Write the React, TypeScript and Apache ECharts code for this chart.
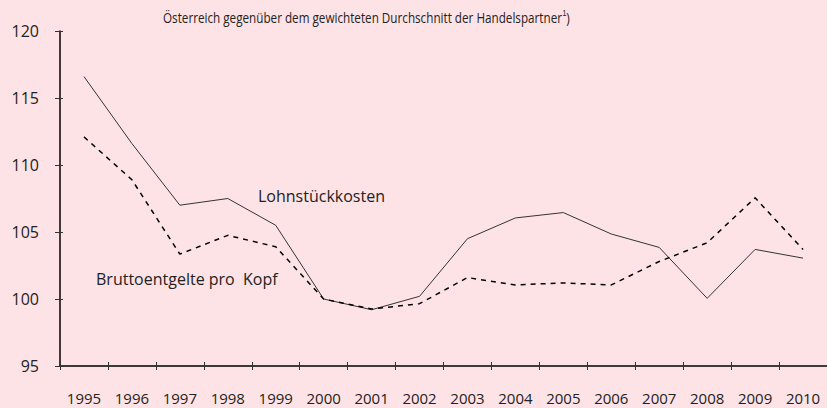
import React, { useEffect, useRef } from "react";
import * as echarts from "echarts";

const years = ["1995","1996","1997","1998","1999","2000","2001","2002","2003","2004","2005","2006","2007","2008","2009","2010"];
const lohnstueckkosten = [116.6, 111.6, 107.0, 107.5, 105.5, 100.0, 99.2, 100.2, 104.5, 106.05, 106.45, 104.85, 103.85, 100.05, 103.7, 103.05];
const bruttoentgelte = [112.1, 108.9, 103.35, 104.75, 103.9, 100.0, 99.25, 99.65, 101.6, 101.05, 101.2, 101.05, 102.8, 104.2, 107.55, 103.7];
const yTicks = { min: 95, max: 120, interval: 5 };
const titleText = "Österreich gegenüber dem gewichteten Durchschnitt der Handelspartner";
const labelLohn = "Lohnstückkosten";
const labelBrutto = "Bruttoentgelte pro  Kopf";

const FONT = "'Open Sans', 'DejaVu Sans', sans-serif";
const BG = "#fee3e6";

export default function App() {
  const ref = useRef<HTMLDivElement>(null);
  useEffect(() => {
    document.body.style.margin = "0";
    document.body.style.background = BG;
    if (!ref.current) return;
    const chart = echarts.init(ref.current, undefined, { renderer: "svg" });
    const grid = { left: 60, right: 0, top: 31, bottom: 42 };
    chart.setOption({
      animation: false,
      backgroundColor: BG,
      textStyle: { fontFamily: FONT },
      grid,
      xAxis: [
        {
          type: "category",
          data: years,
          boundaryGap: true,
          axisLine: { lineStyle: { color: "#000", width: 1.5 } },
          axisTick: { show: true, length: 4, lineStyle: { color: "#333", width: 1 } },
          axisLabel: { color: "#222", fontSize: 15, margin: 24, fontFamily: FONT },
          splitLine: { show: false },
        },
        {
          type: "category",
          data: years,
          position: "bottom",
          boundaryGap: true,
          axisLine: { show: false },
          axisTick: { show: true, inside: true, length: 4, lineStyle: { color: "#333", width: 1 } },
          axisLabel: { show: false },
          splitLine: { show: false },
        },
      ],
      yAxis: [
        {
          type: "value",
          min: yTicks.min,
          max: yTicks.max,
          interval: yTicks.interval,
          axisLine: { show: true, lineStyle: { color: "#000", width: 1.5 } },
          axisTick: { show: true, length: 5, lineStyle: { color: "#333", width: 1 } },
          axisLabel: { color: "#222", fontSize: 16, margin: 21, fontFamily: FONT },
          splitLine: { show: false },
        },
        {
          type: "value",
          position: "left",
          min: yTicks.min,
          max: yTicks.max,
          interval: yTicks.interval,
          axisLine: { show: false },
          axisTick: { show: true, inside: true, length: 3, lineStyle: { color: "#333", width: 1 } },
          axisLabel: { show: false },
          splitLine: { show: false },
        },
      ],
      series: [
        {
          type: "line",
          name: labelLohn,
          data: lohnstueckkosten,
          symbol: "none",
          lineStyle: { color: "#333", width: 1 },
        },
        {
          type: "line",
          name: labelBrutto,
          data: bruttoentgelte,
          symbol: "none",
          lineStyle: { color: "#000", width: 1.5, type: [5, 5] },
        },
      ],
      graphic: [
        {
          type: "text",
          x: 163,
          y: 9,
          scaleX: 0.78,
          style: {
            text: titleText + "{sup|1})",
            rich: { sup: { fontSize: 9, verticalAlign: "top", padding: [0, 0, 7, 0], fill: "#222" } },
            font: `15px ${FONT}`,
            fill: "#222",
          },
        },
        {
          type: "text",
          x: 258,
          y: 188,
          style: { text: labelLohn, font: `16px ${FONT}`, fill: "#222" },
        },
        {
          type: "text",
          x: 96,
          y: 271,
          style: { text: labelBrutto, font: `16px ${FONT}`, fill: "#222", whiteSpace: "pre" },
        },
      ],
    });
    return () => chart.dispose();
  }, []);
  return <div ref={ref} style={{ width: 827, height: 408, position: "absolute", left: 0, top: 0 }} />;
}
